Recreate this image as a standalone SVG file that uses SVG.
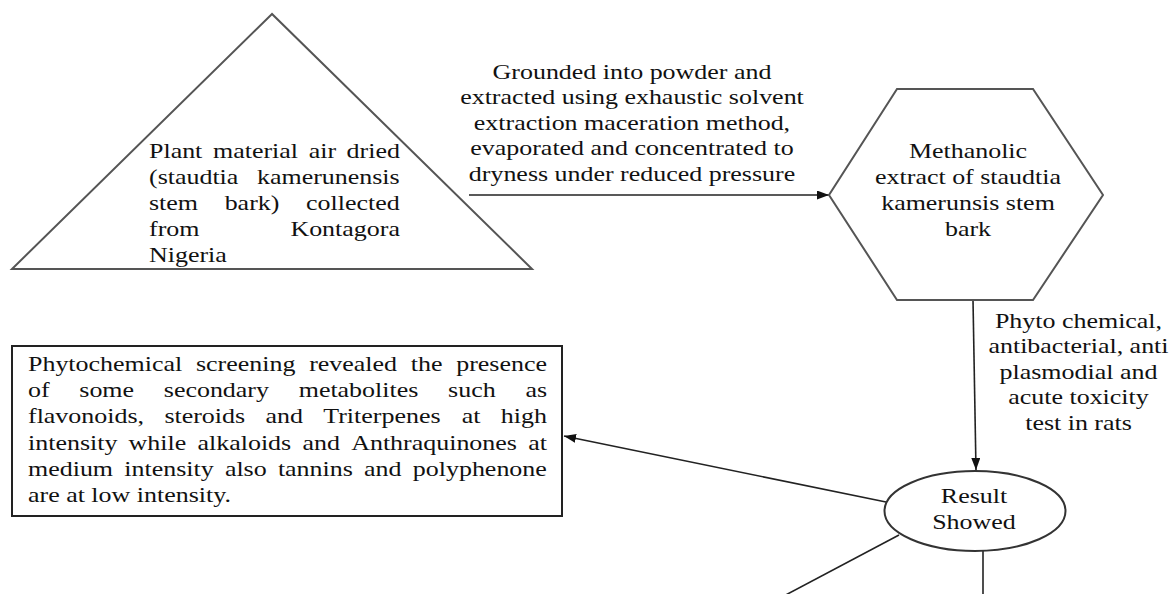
<svg xmlns="http://www.w3.org/2000/svg" width="1172" height="594" viewBox="0 0 1172 594" font-family="'Liberation Serif', 'Times New Roman', 'DejaVu Serif', serif">
<style>
.t{font-family:"Liberation Serif","Times New Roman","DejaVu Serif",serif;font-size:22px;fill:#111;}
.m{text-anchor:middle;}
.shape{fill:#fff;stroke:#555;stroke-width:2;}
.box{fill:#fff;stroke:#222;stroke-width:2;}
.conn{fill:none;stroke:#222;stroke-width:1.6;}
</style>
<defs>
<marker id="ah" markerUnits="userSpaceOnUse" markerWidth="12" markerHeight="9" refX="12" refY="4.5" orient="auto">
<path d="M0,0 L12,4.5 L0,9 z" fill="#111"/>
</marker>
</defs>
<rect width="1172" height="594" fill="#fff"/>
<g id="connectors">
<line class="conn" x1="469" y1="195" x2="829" y2="195" marker-end="url(#ah)"/>
<line class="conn" x1="973" y1="300" x2="976" y2="470" marker-end="url(#ah)"/>
<line class="conn" x1="886" y1="502" x2="564" y2="436" marker-end="url(#ah)"/>
<line class="conn" x1="899" y1="535" x2="780" y2="598"/>
<line class="conn" x1="983" y1="551" x2="983" y2="598"/>
</g>
<g id="node-plant">
<polygon class="shape" points="272,14 12,269 532,269"/>
<text class="t" transform="scale(1.18 1)"><tspan x="126.27" y="158">Plant</tspan><tspan x="180.51" y="158">material</tspan><tspan x="261.61" y="158">air</tspan><tspan x="293.73" y="158">dried</tspan></text>
<text class="t" transform="scale(1.18 1)"><tspan x="126.27" y="184">(staudtia</tspan><tspan x="217.80" y="184">kamerunensis</tspan></text>
<text class="t" transform="scale(1.18 1)"><tspan x="126.27" y="210">stem</tspan><tspan x="190.38" y="210">bark)</tspan><tspan x="259.41" y="210">collected</tspan></text>
<text class="t" transform="scale(1.18 1)"><tspan x="126.27" y="236">from</tspan><tspan x="246.10" y="236">Kontagora</tspan></text>
<text class="t" transform="scale(1.18 1)" x="126.27" y="262">Nigeria</text>
</g>
<g id="label-extraction">
<text class="t m" transform="scale(1.18 1)" x="535.59" y="79">Grounded into powder and</text>
<text class="t m" transform="scale(1.18 1)" x="535.59" y="104.5">extracted using exhaustic solvent</text>
<text class="t m" transform="scale(1.18 1)" x="535.59" y="130">extraction maceration method,</text>
<text class="t m" transform="scale(1.18 1)" x="535.59" y="155.5">evaporated and concentrated to</text>
<text class="t m" transform="scale(1.18 1)" x="535.59" y="181">dryness under reduced pressure</text>
</g>
<g id="node-extract">
<polygon class="shape" points="897,89 1033,89 1103,195 1033,300 897,300 829,195"/>
<text class="t m" transform="scale(1.18 1)" x="820.34" y="158">Methanolic</text>
<text class="t m" transform="scale(1.18 1)" x="820.34" y="184">extract of staudtia</text>
<text class="t m" transform="scale(1.18 1)" x="820.34" y="210">kamerunsis stem</text>
<text class="t m" transform="scale(1.18 1)" x="820.34" y="236">bark</text>
</g>
<g id="label-tests">
<text class="t m" transform="scale(1.18 1)" x="913.98" y="328">Phyto chemical,</text>
<text class="t m" transform="scale(1.18 1)" x="913.98" y="353.5">antibacterial, anti</text>
<text class="t m" transform="scale(1.18 1)" x="913.98" y="379">plasmodial and</text>
<text class="t m" transform="scale(1.18 1)" x="913.98" y="404.5">acute toxicity</text>
<text class="t m" transform="scale(1.18 1)" x="913.98" y="430">test in rats</text>
</g>
<g id="node-result">
<ellipse class="shape" cx="975" cy="511" rx="90.5" ry="40" style="stroke:#333"/>
<text class="t m" transform="scale(1.18 1)" x="825.42" y="503">Result</text>
<text class="t m" transform="scale(1.18 1)" x="825.42" y="529">Showed</text>
</g>
<g id="node-phytochemical">
<rect class="box" x="12" y="346" width="550" height="170"/>
<text class="t" transform="scale(1.18 1)"><tspan x="23.73" y="371">Phytochemical</tspan><tspan x="166.10" y="371">screening</tspan><tspan x="262.03" y="371">revealed</tspan><tspan x="348.14" y="371">the</tspan><tspan x="386.61" y="371">presence</tspan></text>
<text class="t" transform="scale(1.18 1)"><tspan x="23.73" y="397.2">of</tspan><tspan x="67.20" y="397.2">some</tspan><tspan x="138.81" y="397.2">secondary</tspan><tspan x="253.14" y="397.2">metabolites</tspan><tspan x="379.75" y="397.2">such</tspan><tspan x="445.25" y="397.2">as</tspan></text>
<text class="t" transform="scale(1.18 1)"><tspan x="23.73" y="423.4">flavonoids,</tspan><tspan x="139.32" y="423.4">steroids</tspan><tspan x="225.00" y="423.4">and</tspan><tspan x="273.98" y="423.4">Triterpenes</tspan><tspan x="391.36" y="423.4">at</tspan><tspan x="424.41" y="423.4">high</tspan></text>
<text class="t" transform="scale(1.18 1)"><tspan x="23.73" y="449.6">intensity</tspan><tspan x="108.98" y="449.6">while</tspan><tspan x="167.37" y="449.6">alkaloids</tspan><tspan x="256.36" y="449.6">and</tspan><tspan x="297.63" y="449.6">Anthraquinones</tspan><tspan x="447.71" y="449.6">at</tspan></text>
<text class="t" transform="scale(1.18 1)"><tspan x="23.73" y="476">medium</tspan><tspan x="105.34" y="476">intensity</tspan><tspan x="190.59" y="476">also</tspan><tspan x="235.51" y="476">tannins</tspan><tspan x="308.56" y="476">and</tspan><tspan x="349.83" y="476">polyphenone</tspan></text>
<text class="t" transform="scale(1.18 1)" x="23.73" y="502.5">are at low intensity.</text>
</g>
</svg>
